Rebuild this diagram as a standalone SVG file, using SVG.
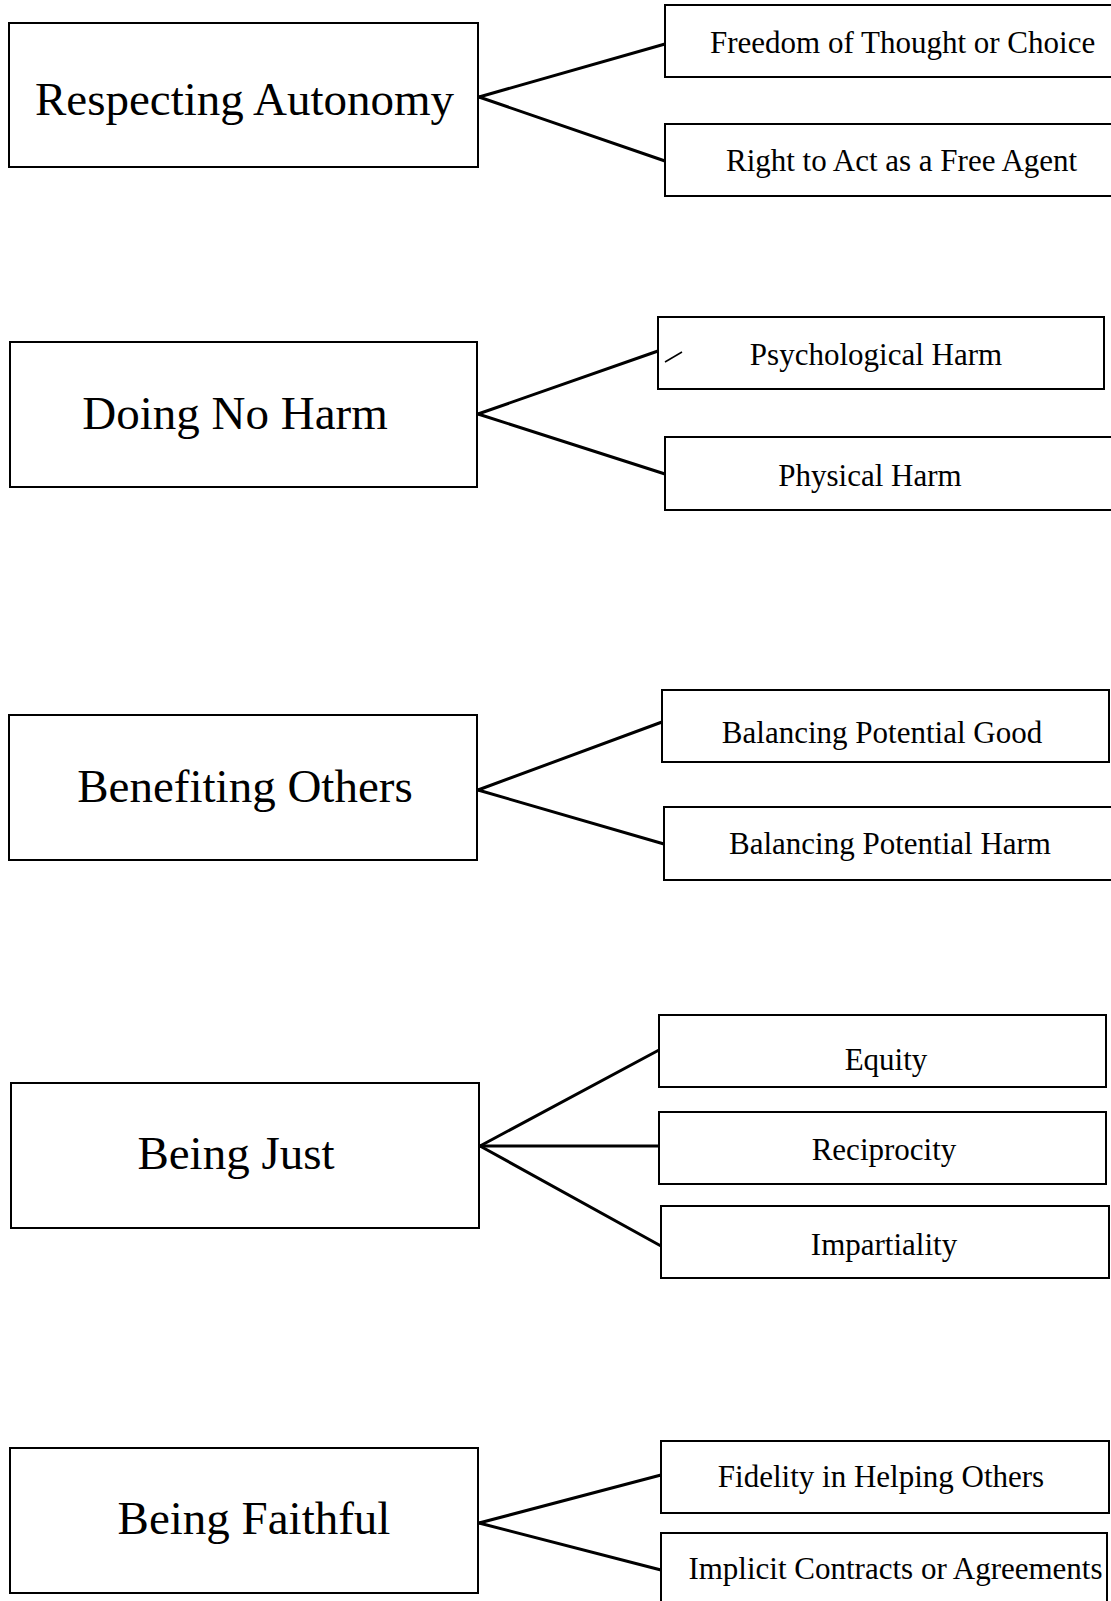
<svg xmlns="http://www.w3.org/2000/svg" width="1111" height="1601" viewBox="0 0 1111 1601">
<style>
.box{fill:#fff;stroke:#000;stroke-width:2}
.main{font-family:"Liberation Serif","Times New Roman",serif;font-size:47px;fill:#000;text-anchor:middle}
.sub{font-family:"Liberation Serif","Times New Roman",serif;font-size:31px;fill:#000;text-anchor:middle}
.conn line{stroke:#000;stroke-width:3;stroke-linecap:round}
</style>
<rect width="1111" height="1601" fill="#fff"/>
<g id="connectors" class="conn">
<line x1="479" y1="97" x2="665" y2="44"/>
<line x1="479" y1="97" x2="665" y2="161"/>
<line x1="478" y1="414" x2="658" y2="351"/>
<line x1="478" y1="414" x2="665" y2="474"/>
<line x1="478" y1="790" x2="662" y2="722"/>
<line x1="478" y1="790" x2="664" y2="844"/>
<line x1="480" y1="1146" x2="659" y2="1050"/>
<line x1="480" y1="1146" x2="659" y2="1146"/>
<line x1="480" y1="1146" x2="661" y2="1246"/>
<line x1="479" y1="1523" x2="661" y2="1475"/>
<line x1="479" y1="1523" x2="661" y2="1570"/>
</g>
<g id="respecting-autonomy"><rect class="box" x="9" y="23" width="469" height="144"/><text class="main" x="244.5" y="115">Respecting Autonomy</text></g>
<g id="freedom"><rect class="box" x="665" y="5" width="450" height="72"/><text class="sub" x="902.6" y="53">Freedom of Thought or Choice</text></g>
<g id="right-to-act"><rect class="box" x="665" y="124" width="450" height="72"/><text class="sub" x="901.6" y="171">Right to Act as a Free Agent</text></g>
<g id="doing-no-harm"><rect class="box" x="10" y="342" width="467" height="145"/><text class="main" x="235" y="429">Doing No Harm</text></g>
<g id="psychological-harm"><rect class="box" x="658" y="317" width="446" height="72"/><line x1="665" y1="362" x2="682" y2="352" stroke="#000" stroke-width="1.5"/><text class="sub" x="876" y="365">Psychological Harm</text></g>
<g id="physical-harm"><rect class="box" x="665" y="437" width="450" height="73"/><text class="sub" x="870" y="486">Physical Harm</text></g>
<g id="benefiting-others"><rect class="box" x="9" y="715" width="468" height="145"/><text class="main" x="245" y="802">Benefiting Others</text></g>
<g id="balancing-good"><rect class="box" x="662" y="690" width="447" height="72"/><text class="sub" x="882" y="743">Balancing Potential Good</text></g>
<g id="balancing-harm"><rect class="box" x="664" y="807" width="451" height="73"/><text class="sub" x="890" y="854">Balancing Potential Harm</text></g>
<g id="being-just"><rect class="box" x="11" y="1083" width="468" height="145"/><text class="main" x="236" y="1169">Being Just</text></g>
<g id="equity"><rect class="box" x="659" y="1015" width="447" height="72"/><text class="sub" x="886" y="1070">Equity</text></g>
<g id="reciprocity"><rect class="box" x="659" y="1112" width="447" height="72"/><text class="sub" x="884" y="1160">Reciprocity</text></g>
<g id="impartiality"><rect class="box" x="661" y="1206" width="448" height="72"/><text class="sub" x="884" y="1255">Impartiality</text></g>
<g id="being-faithful"><rect class="box" x="10" y="1448" width="468" height="145"/><text class="main" x="254" y="1534">Being Faithful</text></g>
<g id="fidelity"><rect class="box" x="661" y="1441" width="448" height="72"/><text class="sub" x="881" y="1487">Fidelity in Helping Others</text></g>
<g id="implicit-contracts"><rect class="box" x="661" y="1533" width="446" height="80"/><text class="sub" x="895.5" y="1579">Implicit Contracts or Agreements</text></g>
</svg>
